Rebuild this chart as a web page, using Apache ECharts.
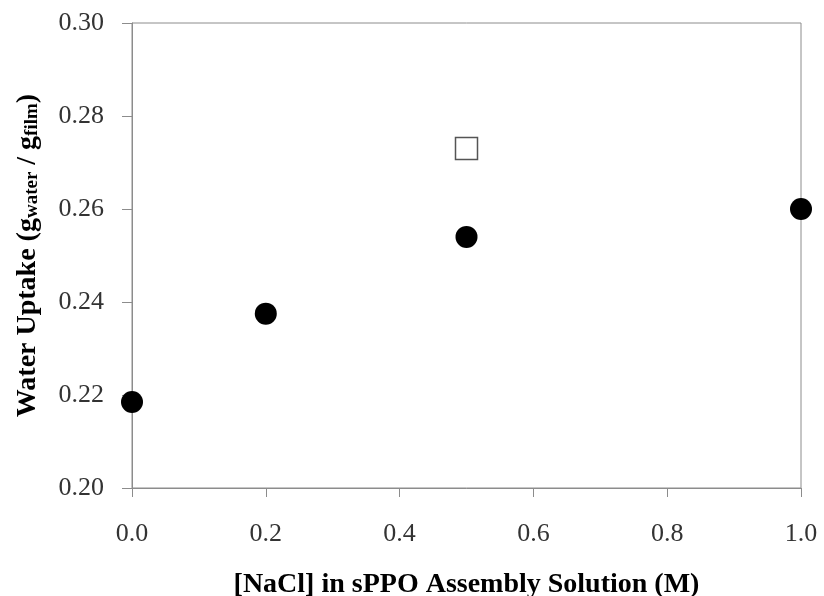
<!DOCTYPE html>
<html>
<head>
<meta charset="utf-8">
<script src="https://cdn.jsdelivr.net/npm/echarts@6/dist/echarts.min.js"></script>
<style>
  html, body { margin: 0; padding: 0; background: #fff; }
  #chart { width: 824px; height: 596px; }
</style>
</head>
<body>
<div id="chart"></div>
<script>
// NaCl concentration (M) and water uptake
const naclFilled = [0.0, 0.2, 0.5, 1.0];
const uptakeFilled = [0.2185, 0.2375, 0.254, 0.260];
const naclOpen = [0.5];
const uptakeOpen = [0.273];

const serif = '"Liberation Serif", "Times New Roman", serif';

const chart = echarts.init(document.getElementById('chart'));

const option = {
  animation: false,
  grid: {
    left: 132,
    right: 23,
    top: 23,
    bottom: 108,
    outerBoundsMode: 'none',
    containLabel: false,
    show: true,
    borderColor: '#8c8c8c',
    borderWidth: 1
  },
  xAxis: {
    type: 'value',
    min: 0,
    max: 1,
    interval: 0.2,
    name: '[NaCl] in sPPO Assembly Solution (M)',
    nameLocation: 'middle',
    nameGap: 83,
    nameTextStyle: { fontFamily: serif, fontWeight: 'bold', fontSize: 28, color: '#000' },
    axisLine: { lineStyle: { color: '#8c8c8c', width: 1 } },
    axisTick: { show: true, length: 9, inside: false, lineStyle: { color: '#8c8c8c' } },
    axisLabel: {
      margin: 33,
      fontFamily: serif,
      fontSize: 26,
      color: '#333',
      formatter: v => v.toFixed(1)
    },
    splitLine: { show: false }
  },
  yAxis: {
    type: 'value',
    min: 0.2,
    max: 0.3,
    interval: 0.02,
    name: '{a|Water Uptake (g}{s|water}{a| / g}{s|film}{a|)}',
    nameLocation: 'middle',
    nameGap: 90,
    nameRotate: 90,
    nameTextStyle: {
      rich: {
        a: { fontFamily: serif, fontWeight: 'bold', fontSize: 28, color: '#000', lineHeight: 34, verticalAlign: 'bottom' },
        s: { fontFamily: serif, fontWeight: 'bold', fontSize: 19, color: '#000', lineHeight: 20, verticalAlign: 'bottom' }
      }
    },
    axisLine: { show: true, lineStyle: { color: '#8c8c8c', width: 1 } },
    axisTick: { show: true, length: 10, inside: false, lineStyle: { color: '#8c8c8c' } },
    axisLabel: {
      margin: 28,
      fontFamily: serif,
      fontSize: 26,
      color: '#333',
      formatter: v => v.toFixed(2)
    },
    splitLine: { show: false }
  },
  series: [
    {
      type: 'scatter',
      data: naclFilled.map((x, i) => [x, uptakeFilled[i]]),
      symbol: 'circle',
      symbolSize: 22,
      itemStyle: { color: '#000', opacity: 1 }
    },
    {
      type: 'scatter',
      data: naclOpen.map((x, i) => [x, uptakeOpen[i]]),
      symbol: 'rect',
      symbolSize: 22,
      itemStyle: { color: '#fff', borderColor: '#555', borderWidth: 1.5, opacity: 1 }
    }
  ]
};

chart.setOption(option);
</script>
</body>
</html>
